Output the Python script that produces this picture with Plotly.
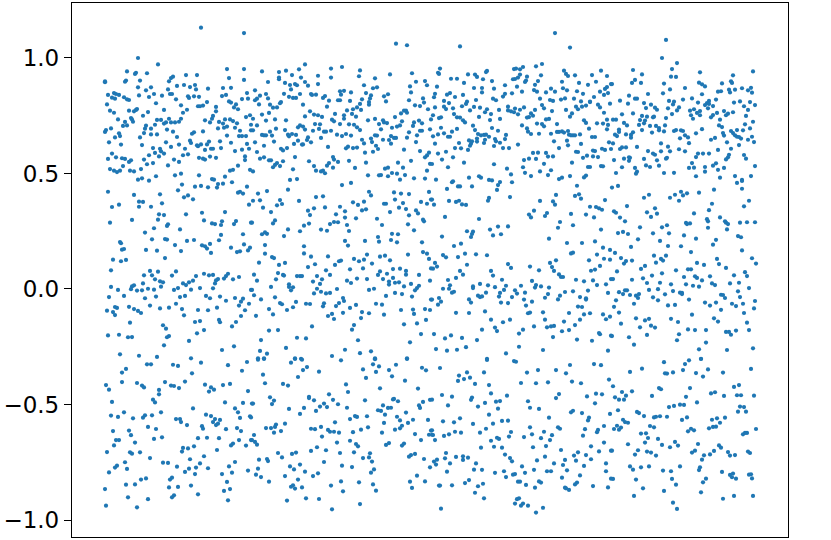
import plotly.graph_objects as go

# values, one list per region of the plot (x position, y value)
top_a = [(96,1.131),(139,1.108),(33,1.0),(53,.972),(22,.942),(31,.936),(30,.931),(42,.934),(0,.899),(0,.895),(21,.902),(20,.897),(35,.902),(122,.952),(139,.952),(81,.926),(92,.926),(124,.913),(139,.905),(68,.919),(66,.913),(64,.899),(72,.879),(79,.883),(90,.883),(85,.874),(91,.864),(103,.867),(33,.873),(41,.860),(46,.873),(63,.864),(118,.870),(126,.871),(49,.844),(34,.838),(44,.831),(57,.837),(65,.844),(67,.844),(3,.840),(9,.848),(11,.844),(14,.840),(7,.828),(10,.824),(19,.830),(22,.821),(24,.818),(71,.821),(83,.834),(84,.827),(89,.834),(94,.832),(117,.835),(121,.840),(142,.848),(137,.822),(143,.824),(51,.804),(2,.799),(76,.795),(93,.791),(95,.791),(98,.794),(102,.809),(124,.812),(126,.807),(131,.799),(129,.786),(133,.778),(111,.788),(111,.769),(108,.749),(107,.737),(5,.772),(9,.763),(24,.772),(29,.769),(31,.775),(32,.779),(43,.766),(59,.775),(82,.776),(78,.763),(38,.750),(13,.734),(26,.740),(27,.734),(28,.724),(20,.723),(22,.708),(18,.706),(52,.732),(56,.732),(64,.737),(59,.716),(61,.721),(66,.721),(70,.721),(74,.724),(76,.737),(50,.711),(41,.707),(40,.694),(46,.694),(100,.730),(105,.721),(114,.723),(118,.716),(120,.734),(125,.734),(128,.727),(132,.717),(113,.695),(119,.698),(122,.703),(130,.698),(141,.744),(145,.752),(146,.711),(0,.680),(1,.688),(6,.695),(62,.690),(68,.681),(39,.675),(46,.669),(52,.669),(14,.674),(15,.662),(10,.656),(87,.672),(89,.678),(98,.682),(135,.685),(146,.687),(35,.656),(72,.658),(122,.664),(134,.662),(137,.662),(141,.662),(4,.635),(16,.625),(37,.623),(61,.635),(66,.615),(74,.625),(85,.642),(86,.632),(92,.622),(93,.618),(96,.626),(104,.638),(102,.626),(115,.639),(116,.610),(126,.633),(142,.628),(48,.610),(80,.607),(100,.602),(106,.607),(108,.607),(130,.597),(137,.603),(144,.607),(55,.607),(56,.596),(59,.586),(50,.589),(44,.579),(54,.574),(7,.586),(11,.570),(3,.563),(17,.566),(20,.563),(26,.557),(24,.550),(39,.560),(42,.540),(48,.545),(78,.579),(83,.583),(94,.568),(98,.564),(100,.560),(105,.573),(111,.568),(69,.560),(74,.550),(63,.535),(140,.558),(140,.574),(18,.532),(5,.519),(9,.512),(12,.506),(15,.512),(25,.512),(29,.509),(36,.519),(133,.534),(128,.516),(125,.512),(145,.516),(70,.492),(76,.499),(94,.492),(51,.488),(120,.486),(33,.473),(37,.479),(44,.469),(107,.476),(109,.473)]

top_b = [(291,1.062),(302,1.055),(200,.972),(237,.961),(226,.954),(194,.951),(181,.945),(157,.942),(174,.939),(255,.946),(285,.929),(307,.934),(187,.926),(213,.923),(254,.921),(226,.915),(196,.915),(174,.908),(174,.915),(270,.912),(311,.897),(320,.900),(163,.896),(180,.892),(200,.896),(185,.883),(190,.887),(192,.882),(203,.880),(213,.887),(259,.882),(322,.882),(305,.877),(186,.864),(268,.869),(272,.873),(150,.860),(235,.856),(239,.858),(246,.851),(261,.848),(266,.838),(306,.851),(161,.844),(179,.845),(195,.844),(206,.844),(207,.840),(211,.841),(236,.841),(283,.843),(279,.834),(155,.837),(152,.824),(150,.817),(163,.825),(184,.832),(188,.827),(191,.827),(220,.835),(218,.827),(224,.815),(233,.817),(235,.817),(245,.814),(257,.821),(265,.825),(264,.809),(264,.798),(281,.812),(304,.817),(318,.825),(319,.807),(310,.795),(315,.792),(176,.809),(175,.804),(154,.799),(165,.798),(168,.785),(172,.786),(198,.798),(222,.789),(255,.801),(252,.786),(248,.778),(256,.775),(242,.773),(323,.778),(205,.769),(200,.747),(209,.755),(213,.752),(217,.745),(230,.758),(239,.752),(239,.737),(247,.758),(251,.746),(157,.755),(164,.762),(148,.737),(170,.734),(161,.729),(181,.730),(290,.744),(296,.760),(299,.772),(301,.772),(302,.763),(326,.734),(227,.733),(229,.726),(263,.730),(270,.736),(297,.726),(278,.730),(279,.721),(282,.718),(274,.714),(314,.729),(317,.717),(309,.721),(308,.706),(152,.708),(148,.687),(210,.714),(215,.713),(235,.714),(244,.713),(249,.711),(252,.700),(255,.688),(195,.708),(198,.703),(200,.690),(193,.700),(180,.688),(171,.694),(214,.693),(208,.685),(219,.681),(221,.681),(226,.685),(276,.691),(287,.698),(292,.703),(295,.708),(325,.691),(304,.678),(315,.685),(317,.685),(312,.665),(165,.681),(157,.667),(159,.665),(161,.665),(167,.664),(183,.668),(184,.661),(187,.671),(191,.667),(232,.668),(237,.662),(241,.671),(246,.664),(270,.665),(272,.664),(286,.662),(284,.645),(289,.654),(291,.654),(302,.655),(203,.656),(202,.645),(216,.654),(150,.635),(169,.638),(193,.642),(189,.628),(197,.625),(198,.626),(206,.635),(257,.646),(259,.630),(266,.651),(267,.636),(278,.646),(286,.629),(311,.636),(159,.620),(223,.615),(241,.609),(243,.616),(248,.610),(252,.612),(271,.620),(273,.606),(299,.603),(176,.607),(178,.600),(182,.610),(152,.593),(260,.590),(268,.594),(315,.597),(324,.590),(322,.578),(320,.570),(190,.571),(228,.571),(229,.560),(155,.564),(159,.570),(164,.557),(166,.557),(178,.553),(204,.553),(244,.555),(306,.555),(261,.547),(293,.547),(325,.542),(172,.545),(170,.537),(168,.527),(175,.532),(209,.532),(224,.545),(222,.534),(233,.550),(228,.525),(250,.524),(280,.521),(283,.525),(298,.525),(188,.518),(211,.512),(216,.509),(218,.512),(220,.501),(322,.512),(148,.509),(263,.492),(274,.492),(276,.493),(287,.502),(292,.499),(283,.488),(300,.493),(309,.479),(320,.478),(185,.472),(192,.476),(295,.473)]

top_c = [(450,1.108),(355,1.050),(465,1.045),(437,.974),(431,.964),(335,.954),(333,.936),(334,.931),(409,.952),(411,.954),(415,.951),(418,.961),(459,.945),(461,.931),(463,.922),(496,.945),(363,.929),(382,.944),(381,.939),(370,.928),(372,.918),(346,.910),(352,.910),(378,.908),(387,.900),(415,.928),(413,.915),(410,.909),(408,.908),(422,.919),(421,.902),(420,.896),(436,.925),(433,.900),(470,.925),(487,.926),(502,.922),(457,.897),(359,.892),(474,.892),(483,.884),(491,.897),(506,.887),(332,.876),(369,.870),(377,.870),(389,.867),(400,.882),(412,.876),(430,.884),(458,.869),(462,.860),(502,.874),(500,.866),(377,.851),(407,.847),(417,.854),(429,.861),(432,.854),(441,.851),(446,.867),(450,.854),(472,.856),(478,.845),(495,.854),(330,.845),(329,.830),(342,.841),(345,.848),(358,.840),(350,.831),(400,.845),(398,.833),(388,.824),(391,.817),(435,.824),(445,.818),(448,.814),(456,.820),(460,.825),(469,.824),(476,.812),(485,.811),(489,.831),(499,.840),(503,.848),(505,.802),(339,.814),(344,.805),(371,.818),(362,.811),(361,.801),(339,.789),(341,.779),(330,.786),(348,.782),(357,.791),(369,.788),(365,.773),(375,.785),(382,.778),(380,.765),(386,.757),(394,.775),(403,.789),(403,.773),(406,.769),(410,.781),(409,.765),(413,.756),(415,.776),(419,.786),(437,.796),(439,.782),(447,.770),(430,.775),(426,.760),(428,.750),(424,.744),(422,.742),(461,.775),(471,.789),(473,.778),(477,.789),(481,.794),(485,.809),(493,.798),(495,.786),(499,.763),(467,.760),(465,.746),(328,.752),(336,.743),(334,.740),(349,.757),(352,.743),(355,.742),(358,.730),(360,.721),(374,.745),(385,.731),(395,.736),(441,.734),(444,.736),(479,.730),(481,.719),(484,.694),(502,.733),(492,.717),(498,.716),(503,.710),(502,.691),(432,.716),(437,.714),(439,.704),(452,.714),(417,.708),(368,.707),(370,.688),(387,.697),(393,.685),(422,.695),(423,.681),(426,.671),(336,.698),(352,.693),(347,.681),(339,.674),(343,.659),(345,.659),(333,.669),(328,.661),(452,.680),(454,.680),(457,.682),(459,.677),(463,.684),(464,.668),(466,.665),(468,.665),(470,.665),(434,.672),(446,.672),(475,.669),(487,.658),(490,.658),(373,.671),(376,.665),(379,.667),(381,.668),(384,.659),(372,.651),(372,.638),(380,.646),(379,.632),(364,.643),(367,.639),(366,.629),(365,.620),(390,.649),(391,.639),(401,.667),(400,.649),(395,.633),(354,.632),(330,.629),(462,.642),(463,.622),(449,.639),(476,.628),(504,.635),(413,.625),(389,.619),(350,.610),(356,.609),(363,.602),(398,.610),(404,.610),(454,.610),(506,.606),(497,.607),(500,.602),(488,.599),(490,.597),(471,.594),(473,.593),(341,.594),(333,.586),(428,.589),(433,.590),(441,.589),(443,.573),(448,.574),(488,.574),(482,.577),(493,.571),(478,.568),(348,.570),(337,.560),(424,.564),(419,.558),(431,.563),(467,.547),(359,.547),(439,.542),(389,.540),(327,.541),(418,.527),(483,.528),(485,.528),(496,.532),(498,.531),(343,.527),(402,.521),(435,.509),(446,.514),(420,.503),(406,.496),(426,.489),(443,.493),(465,.489),(481,.491),(479,.483),(364,.482),(374,.488),(376,.482),(457,.482),(454,.476),(384,.472),(387,.470),(331,.473),(348,.466)]

top_d = [(561,1.078),(557,1.0),(572,.978),(567,.952),(528,.948),(537,.929),(566,.919),(571,.918),(595,.938),(648,.942),(628,.925),(530,.905),(527,.892),(536,.892),(507,.887),(559,.889),(594,.893),(597,.886),(600,.877),(617,.890),(626,.899),(627,.892),(580,.870),(565,.864),(637,.869),(646,.871),(643,.860),(647,.850),(624,.863),(625,.851),(630,.863),(613,.854),(616,.856),(558,.847),(543,.844),(597,.843),(524,.837),(530,.824),(532,.824),(587,.825),(578,.820),(611,.820),(515,.815),(564,.814),(569,.811),(568,.799),(539,.805),(523,.802),(593,.807),(546,.798),(604,.814),(602,.805),(600,.796),(604,.801),(608,.792),(629,.807),(635,.812),(645,.809),(650,.796),(639,.791),(643,.775),(541,.783),(563,.782),(574,.786),(572,.773),(550,.785),(552,.776),(603,.782),(589,.778),(585,.772),(595,.770),(592,.762),(595,.752),(619,.770),(623,.759),(621,.752),(628,.765),(612,.762),(608,.753),(606,.743),(567,.757),(517,.756),(528,.760),(586,.752),(588,.737),(537,.749),(535,.731),(542,.746),(548,.743),(549,.746),(561,.740),(641,.749),(508,.733),(511,.733),(615,.733),(648,.724),(540,.729),(539,.717),(519,.719),(522,.708),(534,.710),(560,.708),(640,.713),(545,.706),(551,.706),(554,.697),(614,.708),(617,.701),(645,.695),(554,.687),(559,.682),(537,.688),(547,.677),(514,.690),(514,.680),(528,.678),(569,.684),(571,.688),(576,.687),(578,.684),(580,.665),(583,.656),(597,.692),(591,.674),(626,.684),(628,.675),(630,.665),(632,.659),(634,.658),(636,.651),(632,.688),(638,.687),(618,.675),(619,.664),(510,.668),(512,.662),(521,.669),(526,.667),(526,.655),(647,.659),(643,.646),(575,.652),(584,.631),(606,.646),(610,.654),(622,.635),(649,.636),(556,.630),(508,.630),(634,.623),(563,.616),(532,.615),(517,.613),(521,.613),(515,.606),(543,.597),(556,.596),(565,.596),(574,.605),(580,.596),(613,.602),(626,.607),(548,.586),(550,.581),(593,.586),(598,.586),(604,.586),(591,.571),(624,.581),(623,.570),(621,.561),(639,.580),(641,.564),(519,.564),(524,.570),(525,.568),(524,.555),(539,.563),(552,.557),(561,.564),(562,.568),(509,.558),(587,.545),(584,.524),(589,.525),(611,.544),(608,.534),(650,.532),(541,.535),(545,.528),(554,.534),(600,.528),(600,.508),(517,.527),(613,.516),(619,.524),(530,.524),(532,.508),(531,.499),(559,.502),(569,.503),(511,.502),(591,.488),(615,.482),(630,.489),(646,.489),(637,.472)]

mid_a = [(3,.421),(29,.407),(55,.410),(77,.452),(73,.427),(90,.443),(96,.446),(103,.440),(112,.439),(113,.454),(118,.456),(127,.462),(142,.443),(79,.397),(83,.405),(88,.388),(133,.417),(135,.421),(138,.413),(34,.378),(38,.377),(57,.371),(14,.365),(7,.355),(34,.356),(46,.356),(144,.365),(97,.330),(81,.323),(120,.333),(54,.323),(59,.320),(27,.299),(53,.300),(5,.287),(99,.297),(107,.284),(110,.281),(117,.293),(116,.277),(131,.294),(129,.281),(146,.287),(63,.280),(62,.273),(49,.263),(75,.258),(40,.244),(116,.234),(114,.211),(138,.237),(47,.215),(60,.216),(62,.214),(82,.208),(89,.212),(15,.203),(16,.198),(70,.190),(97,.189),(100,.185),(102,.175),(105,.195),(106,.156),(139,.193),(126,.179),(17,.170),(19,.173),(41,.169),(52,.166),(76,.164),(132,.160),(135,.163),(143,.167),(145,.179),(60,.134),(8,.127),(16,.120),(21,.126),(6,.081),(45,.078),(53,.075),(71,.076),(39,.059),(47,.059),(50,.042),(67,.058),(91,.056),(99,.066),(104,.059),(108,.061),(123,.066),(121,.056),(119,.045),(113,.043),(111,.037),(110,.024),(128,.042),(134,.052),(55,.033),(58,.029),(38,.024),(78,.024),(81,.017),(84,.029),(88,.036),(6,.009),(13,-.004),(29,.016),(27,.011),(26,-.001),(32,-.007),(37,-.006),(43,.001),(49,-.003),(56,.010),(69,-.004),(73,.004),(86,-.003),(95,.004),(108,.003),(146,-.004),(4,-.035),(19,-.030),(40,-.040),(51,-.033),(75,-.035),(80,-.030),(101,-.030),(105,-.040),(115,-.033),(121,-.051),(130,-.039),(138,-.042),(136,-.055),(134,-.072),(144,-.064),(71,-.064),(10,-.078),(12,-.082),(24,-.077),(45,-.072),(29,-.087),(33,-.095),(36,-.104),(2,-.094),(8,-.100),(10,-.113),(55,-.084),(64,-.081),(77,-.087),(93,-.091),(103,-.092),(112,-.081),(140,-.092),(79,-.114),(136,-.117),(25,-.146),(90,-.143),(95,-.139),(114,-.134),(115,-.144),(131,-.143),(127,-.162),(58,-.157),(61,-.172),(99,-.178),(92,-.192),(3,-.201),(14,-.198),(23,-.209),(27,-.208),(64,-.204),(62,-.209),(84,-.225),(59,-.244),(117,-.264),(129,-.248),(15,-.283),(34,-.289),(52,-.294),(86,-.300)]

mid_b = [(237,.450),(246,.459),(153,.413),(162,.424),(183,.430),(264,.421),(266,.405),(289,.418),(296,.413),(304,.411),(324,.420),(211,.398),(218,.401),(175,.385),(148,.382),(155,.384),(194,.381),(290,.387),(326,.387),(248,.375),(259,.378),(253,.364),(172,.362),(177,.368),(158,.352),(209,.349),(220,.353),(235,.356),(279,.369),(281,.369),(298,.372),(316,.377),(322,.369),(294,.352),(301,.346),(257,.340),(261,.345),(240,.336),(203,.339),(166,.333),(285,.333),(311,.340),(313,.327),(205,.320),(231,.323),(240,.309),(304,.319),(251,.306),(272,.304),(318,.300),(319,.293),(147,.287),(170,.297),(168,.284),(204,.283),(199,.274),(225,.281),(229,.290),(233,.289),(242,.277),(277,.277),(303,.280),(183,.258),(195,.250),(216,.257),(222,.252),(244,.251),(309,.254),(157,.237),(160,.245),(162,.239),(179,.229),(287,.239),(293,.237),(273,.225),(286,.212),(292,.202),(274,.205),(240,.208),(243,.188),(260,.208),(317,.202),(160,.190),(199,.185),(199,.154),(160,.153),(303,.149),(318,.160),(322,.153),(324,.130),(262,.149),(223,.141),(206,.140),(167,.138),(169,.134),(275,.140),(280,.144),(249,.130),(254,.120),(259,.127),(267,.110),(234,.120),(236,.123),(285,.124),(154,.114),(180,.113),(174,.104),(210,.107),(230,.104),(203,.095),(221,.081),(245,.085),(258,.089),(288,.086),(295,.088),(301,.078),(301,.062),(326,.089),(314,.061),(275,.076),(273,.061),(282,.066),(173,.069),(178,.061),(179,.058),(192,.056),(195,.056),(197,.056),(225,.061),(212,.056),(149,.062),(171,.042),(152,.036),(217,.042),(208,.032),(242,.036),(246,.026),(252,.045),(262,.043),(278,.043),(288,.048),(284,.032),(284,.019),(290,.027),(294,.029),(325,.036),(215,.022),(306,.022),(299,.011),(314,.014),(312,.004),(310,-.006),(166,.009),(184,.020),(184,.009),(188,.007),(186,-.006),(212,.001),(232,.000),(264,-.004),(269,.001),(147,-.004),(209,-.019),(216,-.012),(221,-.019),(225,-.017),(290,-.017),(297,-.022),(149,-.027),(281,-.030),(307,-.033),(170,-.036),(156,-.045),(238,-.039),(239,-.052),(326,-.046),(191,-.056),(175,-.061),(177,-.066),(201,-.064),(205,-.065),(219,-.062),(218,-.075),(234,-.061),(231,-.074),(251,-.069),(271,-.064),(277,-.068),(188,-.079),(164,-.087),(182,-.091),(245,-.082),(296,-.091),(308,-.089),(320,-.087),(325,-.091),(238,-.103),(257,-.100),(264,-.105),(168,-.110),(151,-.116),(223,-.117),(227,-.108),(229,-.130),(279,-.111),(256,-.126),(309,-.108),(321,-.134),(312,-.149),(249,-.156),(247,-.176),(299,-.153),(207,-.162),(164,-.180),(173,-.178),(316,-.195),(192,-.211),(201,-.214),(156,-.221),(253,-.222),(305,-.231),(181,-.255),(240,-.263),(155,-.268),(162,-.280),(266,-.270),(255,-.278),(227,-.290),(153,-.300),(159,-.300),(190,-.300),(196,-.302),(270,-.300),(302,-.300)]

mid_c = [(342,.433),(347,.462),(353,.444),(355,.444),(367,.444),(393,.450),(395,.463),(392,.429),(407,.462),(472,.447),(451,.407),(405,.398),(470,.403),(474,.410),(476,.391),(384,.394),(383,.382),(327,.387),(329,.365),(344,.381),(351,.377),(354,.382),(357,.366),(361,.364),(435,.381),(448,.379),(450,.365),(500,.385),(485,.356),(491,.355),(494,.349),(497,.343),(429,.339),(424,.322),(426,.310),(442,.329),(440,.316),(466,.325),(481,.322),(489,.310),(340,.312),(374,.303),(455,.290),(453,.265),(468,.276),(393,.270),(403,.271),(385,.257),(388,.232),(396,.237),(362,.250),(368,.248),(367,.238),(366,.225),(496,.257),(337,.227),(444,.218),(356,.196),(349,.186),(462,.199),(477,.199),(490,.206),(498,.179),(505,.169),(360,.153),(371,.150),(382,.146),(338,.147),(341,.137),(353,.138),(466,.154),(468,.157),(492,.149),(499,.131),(505,.127),(484,.124),(451,.124),(445,.113),(330,.113),(328,.088),(332,.097),(362,.105),(403,.108),(406,.091),(425,.097),(434,.081),(447,.095),(449,.078),(454,.063),(456,.052),(458,.052),(495,.100),(490,.084),(486,.079),(355,.078),(358,.062),(386,.078),(388,.058),(351,.048),(343,.039),(397,.040),(427,.035),(471,.040),(479,.033),(488,.037),(506,.043),(375,.022),(383,.016),(390,.008),(401,.014),(416,.014),(431,.017),(436,.011),(430,.006),(444,.006),(345,.016),(368,.011),(368,.004),(492,.017),(501,.020),(338,.001),(344,.001),(347,-.016),(349,-.012),(399,-.004),(395,-.017),(394,-.033),(381,-.016),(410,-.006),(412,-.020),(407,-.035),(420,-.016),(483,-.007),(468,-.010),(460,-.013),(443,-.022),(440,-.038),(503,-.017),(373,-.029),(375,-.035),(377,-.032),(455,-.029),(453,-.045),(475,-.035),(481,-.040),(481,-.046),(334,-.039),(336,-.055),(333,-.068),(327,-.046),(364,-.045),(366,-.059),(419,-.046),(427,-.055),(396,-.059),(403,-.061),(421,-.072),(473,-.076),(477,-.078),(380,-.097),(351,-.103),(364,-.104),(438,-.101),(423,-.105),(425,-.102),(464,-.104),(479,-.110),(485,-.105),(498,-.110),(505,-.120),(501,-.131),(386,-.133),(405,-.133),(398,-.144),(440,-.133),(459,-.141),(475,-.133),(429,-.162),(442,-.166),(446,-.162),(449,-.160),(470,-.156),(390,-.167),(392,-.182),(377,-.176),(418,-.176),(414,-.193),(457,-.183),(464,-.178),(494,-.191),(495,-.196),(506,-.202),(329,-.195),(340,-.214),(346,-.201),(357,-.212),(448,-.208),(372,-.221),(472,-.219),(487,-.224),(331,-.260),(342,-.267),(352,-.263),(361,-.252),(414,-.250),(438,-.264),(503,-.267),(401,-.279),(382,-.302)]

mid_d = [(507,.439),(513,.446),(632,.459),(637,.434),(637,.468),(609,.430),(539,.395),(544,.408),(565,.395),(570,.408),(576,.421),(578,.405),(582,.414),(574,.382),(594,.417),(644,.382),(607,.369),(639,.358),(522,.359),(550,.349),(604,.341),(509,.336),(511,.330),(542,.332),(552,.326),(546,.312),(589,.327),(515,.309),(520,.293),(615,.310),(602,.302),(603,.293),(620,.293),(621,.287),(623,.281),(581,.286),(582,.281),(585,.284),(635,.287),(642,.289),(650,.289),(535,.267),(557,.267),(562,.276),(603,.265),(622,.258),(513,.242),(518,.247),(523,.238),(548,.241),(564,.241),(579,.232),(533,.215),(555,.208),(591,.218),(611,.213),(633,.229),(636,.224),(563,.186),(576,.185),(526,.182),(608,.192),(637,.167),(586,.160),(510,.156),(549,.144),(561,.144),(516,.134),(521,.121),(519,.110),(527,.123),(556,.130),(558,.123),(551,.114),(612,.130),(614,.108),(647,.133),(651,.110),(592,.113),(599,.104),(540,.100),(536,.087),(621,.091),(512,.076),(571,.081),(583,.085),(586,.085),(557,.068),(640,.073),(642,.056),(629,.059),(547,.058),(579,.052),(590,.055),(592,.048),(597,.037),(605,.055),(508,.043),(527,.040),(538,.046),(542,.026),(555,.027),(566,.020),(581,.020),(588,.014),(594,.010),(607,.024),(610,.017),(625,.024),(634,.027),(644,.004),(544,-.004),(553,-.001),(568,-.009),(514,-.014),(518,-.022),(520,-.006),(522,-.006),(525,-.026),(531,-.029),(533,-.039),(534,-.022),(560,-.023),(548,-.036),(553,-.049),(575,-.016),(577,-.017),(577,-.022),(616,-.025),(618,-.026),(620,-.039),(633,-.010),(635,-.035),(511,-.049),(584,-.046),(650,-.052),(600,-.059),(605,-.072),(611,-.059),(529,-.064),(563,-.071),(570,-.069),(627,-.064),(631,-.074),(638,-.064),(509,-.077),(649,-.084),(616,-.090),(514,-.102),(587,-.111),(639,-.104),(531,-.127),(540,-.136),(544,-.129),(566,-.129),(609,-.127),(613,-.141),(573,-.143),(642,-.146),(516,-.150),(535,-.166),(546,-.159),(550,-.167),(583,-.175),(590,-.178),(601,-.178),(644,-.178),(631,-.180),(621,-.186),(624,-.186),(626,-.198),(574,-.196),(542,-.199),(524,-.209),(507,-.204),(572,-.222),(601,-.232),(529,-.241),(648,-.257),(594,-.261),(622,-.264),(596,-.302)]

low_a = [(42,-.326),(46,-.326),(68,-.328),(73,-.333),(96,-.319),(123,-.330),(142,-.316),(21,-.346),(17,-.362),(87,-.365),(137,-.354),(17,-.403),(1,-.416),(4,-.436),(32,-.407),(37,-.418),(39,-.426),(60,-.403),(66,-.418),(69,-.420),(74,-.429),(80,-.401),(100,-.414),(106,-.426),(109,-.436),(104,-.444),(118,-.416),(125,-.411),(143,-.442),(54,-.437),(54,-.456),(48,-.479),(50,-.491),(7,-.489),(120,-.491),(138,-.493),(147,-.496),(130,-.517),(133,-.534),(135,-.558),(88,-.517),(19,-.534),(56,-.534),(6,-.548),(13,-.554),(28,-.560),(40,-.547),(38,-.557),(47,-.547),(101,-.544),(106,-.550),(110,-.563),(108,-.576),(115,-.567),(113,-.583),(111,-.589),(145,-.551),(146,-.556),(71,-.563),(75,-.563),(76,-.576),(82,-.589),(97,-.594),(98,-.605),(43,-.597),(51,-.606),(121,-.607),(132,-.602),(136,-.615),(8,-.615),(24,-.613),(26,-.633),(11,-.654),(14,-.654),(9,-.677),(49,-.649),(57,-.642),(30,-.665),(93,-.646),(102,-.644),(114,-.646),(134,-.654),(146,-.654),(141,-.678),(128,-.669),(126,-.677),(89,-.681),(83,-.690),(78,-.688),(77,-.704),(112,-.697),(2,-.706),(25,-.707),(27,-.713),(35,-.707),(99,-.724),(45,-.732),(85,-.737),(130,-.749),(20,-.750),(58,-.752),(63,-.753),(95,-.755),(124,-.768),(12,-.765),(10,-.773),(22,-.779),(72,-.769),(84,-.778),(91,-.773),(103,-.776),(4,-.794),(80,-.792),(90,-.801),(143,-.786),(117,-.801),(127,-.795),(41,-.820),(36,-.825),(67,-.817),(65,-.825),(122,-.835),(21,-.847),(30,-.846),(86,-.851),(73,-.857),(64,-.859),(0,-.866),(125,-.866),(119,-.874),(93,-.889),(23,-.902),(43,-.910),(69,-.893),(67,-.902),(123,-.915),(1,-.938),(32,-.945)]

low_b = [(153,-.306),(159,-.303),(190,-.303),(197,-.306),(236,-.309),(186,-.319),(202,-.338),(198,-.351),(214,-.358),(193,-.381),(158,-.371),(160,-.408),(178,-.411),(183,-.418),(270,-.304),(268,-.326),(274,-.335),(258,-.348),(271,-.359),(261,-.385),(291,-.328),(284,-.351),(287,-.378),(300,-.397),(302,-.303),(317,-.341),(321,-.352),(241,-.413),(243,-.446),(275,-.430),(313,-.431),(224,-.456),(228,-.480),(233,-.499),(204,-.467),(204,-.472),(209,-.482),(165,-.469),(169,-.483),(167,-.498),(260,-.482),(288,-.478),(289,-.476),(293,-.486),(325,-.480),(318,-.489),(314,-.504),(315,-.515),(148,-.496),(219,-.496),(215,-.509),(222,-.511),(242,-.514),(278,-.504),(273,-.525),(276,-.528),(283,-.515),(286,-.514),(184,-.519),(199,-.515),(211,-.528),(195,-.541),(301,-.535),(280,-.544),(262,-.551),(250,-.550),(252,-.554),(245,-.563),(292,-.553),(295,-.569),(308,-.566),(303,-.580),(323,-.567),(230,-.577),(279,-.580),(297,-.592),(295,-.603),(290,-.609),(171,-.587),(170,-.597),(166,-.602),(161,-.602),(180,-.583),(176,-.615),(169,-.622),(263,-.599),(256,-.609),(248,-.620),(216,-.597),(206,-.605),(210,-.607),(223,-.610),(225,-.618),(229,-.618),(234,-.622),(277,-.622),(310,-.628),(324,-.631),(326,-.613),(327,-.631),(149,-.632),(147,-.654),(150,-.662),(152,-.674),(217,-.639),(232,-.665),(245,-.657),(251,-.671),(253,-.681),(316,-.654),(299,-.669),(297,-.678),(284,-.667),(281,-.675),(212,-.685),(206,-.701),(221,-.698),(235,-.710),(249,-.707),(173,-.710),(177,-.729),(187,-.714),(191,-.708),(265,-.711),(264,-.729),(258,-.732),(310,-.714),(306,-.719),(304,-.726),(267,-.747),(319,-.736),(154,-.739),(162,-.736),(163,-.745),(219,-.749),(185,-.768),(189,-.781),(195,-.760),(237,-.765),(247,-.771),(325,-.772),(269,-.781),(153,-.778),(200,-.791),(208,-.810),(213,-.798),(266,-.795),(151,-.804),(156,-.814),(180,-.810),(312,-.808),(193,-.825),(164,-.834),(236,-.833),(254,-.837),(305,-.834),(320,-.833),(226,-.851),(268,-.846),(186,-.856),(188,-.850),(190,-.864),(197,-.859),(307,-.861),(238,-.876),(271,-.873),(201,-.906),(214,-.909),(182,-.916),(255,-.931),(227,-.954)]

low_c = [(382,-.307),(409,-.312),(411,-.315),(335,-.342),(465,-.329),(489,-.325),(496,-.330),(451,-.351),(433,-.351),(422,-.362),(461,-.365),(379,-.361),(362,-.361),(354,-.375),(359,-.390),(365,-.384),(353,-.398),(504,-.392),(467,-.401),(476,-.408),(416,-.407),(431,-.408),(443,-.404),(370,-.411),(384,-.416),(386,-.452),(402,-.462),(337,-.459),(347,-.466),(454,-.455),(451,-.472),(491,-.453),(497,-.456),(482,-.465),(367,-.470),(366,-.480),(327,-.479),(391,-.488),(395,-.485),(423,-.486),(490,-.495),(343,-.504),(373,-.509),(380,-.493),(425,-.514),(434,-.519),(393,-.518),(466,-.534),(468,-.527),(477,-.537),(505,-.541),(384,-.544),(484,-.557),(483,-.569),(355,-.560),(338,-.573),(349,-.577),(397,-.571),(403,-.570),(388,-.583),(368,-.584),(444,-.557),(425,-.599),(499,-.593),(453,-.599),(455,-.605),(480,-.607),(493,-.610),(492,-.620),(381,-.605),(327,-.612),(328,-.632),(339,-.636),(344,-.629),(350,-.618),(356,-.622),(375,-.622),(406,-.619),(439,-.618),(427,-.629),(419,-.641),(404,-.639),(447,-.633),(445,-.654),(436,-.646),(478,-.635),(330,-.654),(386,-.657),(392,-.644),(394,-.649),(499,-.665),(376,-.687),(389,-.683),(397,-.687),(428,-.685),(441,-.680),(486,-.681),(494,-.703),(506,-.700),(456,-.697),(473,-.707),(469,-.721),(341,-.710),(400,-.717),(405,-.732),(407,-.746),(481,-.719),(486,-.737),(440,-.726),(432,-.742),(351,-.727),(358,-.724),(363,-.730),(358,-.740),(340,-.733),(332,-.739),(329,-.747),(331,-.760),(345,-.755),(460,-.740),(471,-.743),(458,-.762),(449,-.755),(371,-.755),(369,-.782),(377,-.783),(501,-.755),(501,-.789),(479,-.766),(462,-.785),(417,-.768),(429,-.783),(342,-.791),(390,-.796),(399,-.789),(401,-.814),(420,-.796),(408,-.804),(410,-.801),(442,-.789),(446,-.789),(475,-.807),(457,-.817),(506,-.821),(364,-.827),(360,-.840),(413,-.834),(415,-.834),(434,-.833),(436,-.838),(378,-.843),(373,-.854),(334,-.851),(335,-.851),(347,-.850),(421,-.848),(430,-.860),(472,-.838),(470,-.846),(488,-.853),(503,-.859),(460,-.860),(461,-.863),(464,-.870),(370,-.882),(379,-.906),(414,-.906),(412,-.910),(410,-.929),(418,-.929),(416,-.938),(423,-.938),(438,-.947),(336,-.951),(431,-.968)]

low_d = [(559,-.317),(580,-.325),(584,-.309),(596,-.303),(525,-.359),(537,-.345),(560,-.365),(562,-.366),(568,-.361),(578,-.351),(591,-.364),(598,-.379),(603,-.348),(618,-.362),(646,-.346),(508,-.421),(554,-.429),(556,-.434),(585,-.429),(629,-.424),(634,-.416),(517,-.446),(521,-.462),(527,-.443),(606,-.452),(610,-.447),(619,-.463),(632,-.460),(636,-.460),(649,-.462),(510,-.469),(514,-.479),(519,-.479),(547,-.463),(581,-.467),(592,-.491),(575,-.501),(579,-.502),(569,-.506),(564,-.511),(635,-.509),(639,-.511),(633,-.531),(641,-.531),(513,-.525),(532,-.532),(534,-.537),(539,-.550),(549,-.556),(551,-.553),(555,-.551),(562,-.553),(582,-.556),(577,-.567),(620,-.557),(612,-.560),(607,-.566),(615,-.579),(518,-.566),(520,-.576),(523,-.579),(545,-.593),(549,-.599),(512,-.592),(516,-.600),(514,-.609),(509,-.606),(608,-.597),(611,-.596),(604,-.603),(586,-.605),(589,-.612),(583,-.616),(651,-.606),(642,-.623),(640,-.623),(638,-.629),(536,-.626),(541,-.625),(543,-.645),(540,-.665),(553,-.649),(557,-.675),(570,-.662),(573,-.678),(565,-.685),(593,-.671),(523,-.672),(614,-.677),(616,-.687),(507,-.700),(533,-.698),(530,-.717),(542,-.704),(546,-.708),(551,-.721),(590,-.700),(587,-.708),(609,-.701),(605,-.716),(599,-.720),(597,-.739),(623,-.706),(625,-.721),(630,-.719),(643,-.704),(645,-.710),(525,-.768),(528,-.782),(536,-.772),(544,-.768),(575,-.768),(558,-.786),(566,-.789),(595,-.772),(594,-.784),(617,-.792),(625,-.805),(628,-.799),(627,-.815),(631,-.821),(644,-.804),(646,-.802),(647,-.820),(508,-.822),(531,-.825),(567,-.822),(601,-.821),(598,-.837),(571,-.847),(538,-.863),(559,-.874),(596,-.880),(529,-.896),(618,-.908),(629,-.896),(648,-.896),(568,-.925),(572,-.952)]

ticks = [-1.0, -0.5, 0.0, 0.5, 1.0]

regions = [top_a, top_b, top_c, top_d, mid_a, mid_b, mid_c, mid_d, low_a, low_b, low_c, low_d]
xs = [p[0] for r in regions for p in r]
ys = [p[1] for r in regions for p in r]

fig = go.Figure(go.Scatter(x=xs, y=ys, mode='markers', marker=dict(color='#1f77b4', size=4.2, line=dict(width=0))))

fig.update_layout(
    width=831, height=540, showlegend=False,
    paper_bgcolor='white', plot_bgcolor='white',
    margin=dict(l=72, r=43, t=3, b=3),
    font=dict(family='DejaVu Sans', size=23, color='black'),
)
fig.update_xaxes(range=[-33, 683], showgrid=False, zeroline=False, showticklabels=False, ticks='',
                 showline=True, linecolor='black', linewidth=1.3, mirror=True)
fig.update_yaxes(range=[-1.0736, 1.238], tickvals=ticks, tickformat='.1f', showgrid=False, zeroline=False,
                 ticks='outside', ticklen=7, tickwidth=1.3, tickcolor='black',
                 showline=True, linecolor='black', linewidth=1.3, mirror=True)

# the page's default body margin would push the whole figure down and right
fig.write_html("out.html", config=dict(displayModeBar=False), post_script="document.body.style.margin='0';")
